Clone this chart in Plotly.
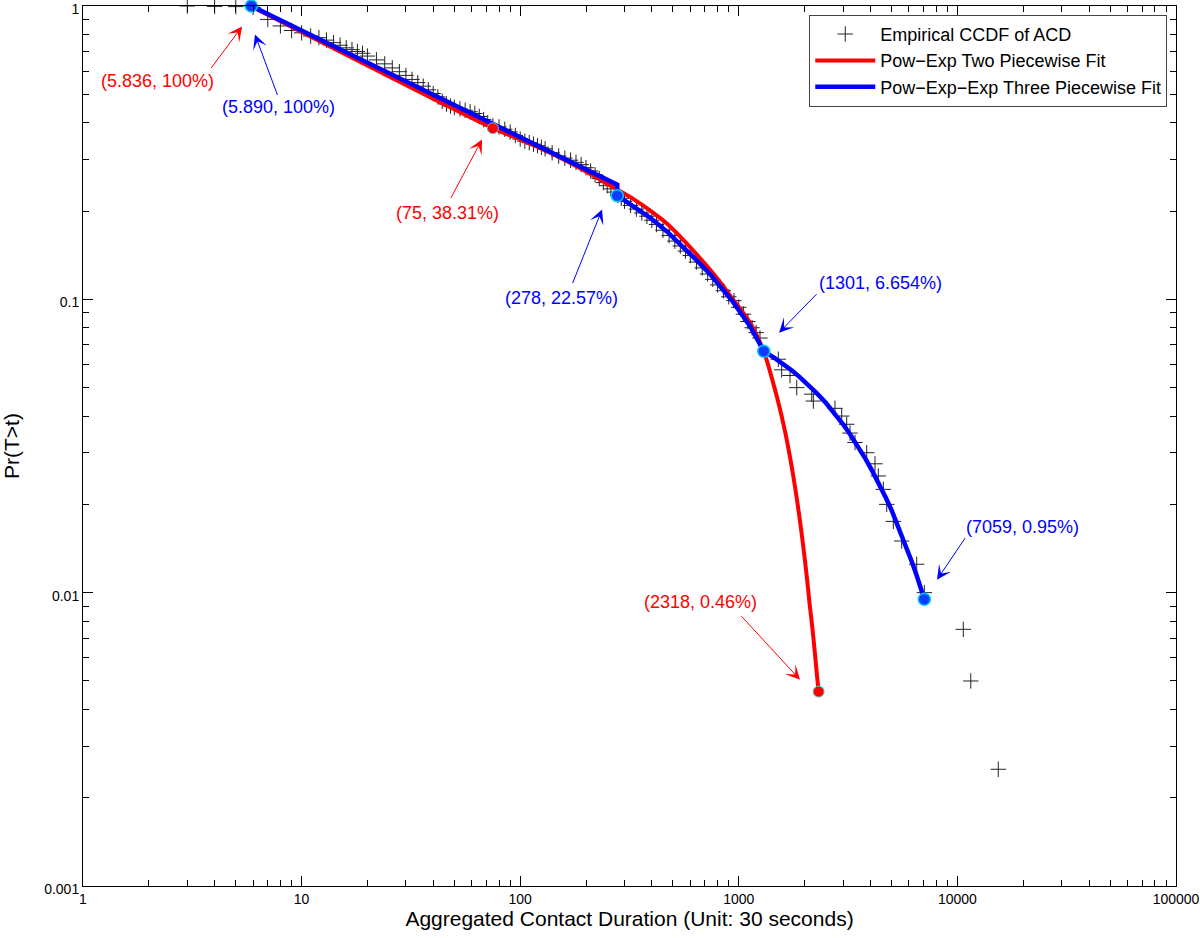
import numpy as np
import plotly.graph_objects as go

# ---------------- data ----------------
emp_x = [3, 4, 5, 6, 7, 8, 9, 10, 11, 12, 13, 14, 15, 16, 17, 18, 19, 20, 22, 24, 26, 28,
         30, 32, 34, 36, 38, 40, 42, 44, 46, 48, 50, 53, 56, 59, 62, 65, 68, 71, 75, 80,
         85, 90, 95, 100, 105, 110, 115, 120, 125, 130, 140, 150, 160, 170, 180, 190, 200,
         210, 220, 230, 240, 250, 260, 270, 280, 290, 300, 320, 340, 360, 380, 400, 420,
         450, 480, 510, 540, 570, 600, 640, 680, 720, 760, 800, 850, 900, 950, 1000, 1050,
         1100, 1150, 1200, 1250, 1516, 1571, 1715, 1841, 2156, 2193, 2754, 2956, 3116,
         3227, 3401, 3847, 4198, 4347, 4583, 4750, 5092, 5560, 6514, 7059, 10640, 11510,
         15380]
emp_y = [1.0, 0.997, 0.995, 0.99, 0.90, 0.855, 0.825, 0.81, 0.79, 0.78, 0.765, 0.75, 0.735,
         0.72, 0.71, 0.70, 0.69, 0.675, 0.655, 0.635, 0.615, 0.597, 0.58, 0.562, 0.548,
         0.533, 0.518, 0.503, 0.49, 0.473, 0.463, 0.456, 0.451, 0.446, 0.441, 0.436, 0.43,
         0.42, 0.41, 0.40, 0.39, 0.387, 0.38, 0.372, 0.362, 0.352, 0.346, 0.342, 0.338,
         0.334, 0.33, 0.326, 0.316, 0.308, 0.303, 0.298, 0.293, 0.288, 0.281, 0.274, 0.266,
         0.258, 0.25, 0.244, 0.238, 0.232, 0.226, 0.221, 0.216, 0.209, 0.203, 0.197, 0.192,
         0.186, 0.18, 0.172, 0.165, 0.158, 0.152, 0.146, 0.141, 0.134, 0.128, 0.122, 0.117,
         0.112, 0.107, 0.102, 0.099, 0.094, 0.089, 0.084, 0.08, 0.077, 0.0738, 0.0625,
         0.0575, 0.055, 0.05, 0.0475, 0.045, 0.0425, 0.04, 0.0375, 0.035, 0.0325, 0.03,
         0.0275, 0.025, 0.0225, 0.02, 0.0175, 0.015, 0.0125, 0.01, 0.0075, 0.005, 0.0025]

red_x = [5.836, 75, 100, 137, 200, 265, 330, 392, 470, 556, 640, 738, 840, 941, 1030, 1125,
         1210, 1291, 1360, 1430, 1500, 1570, 1640, 1710, 1780, 1850, 1920, 1990, 2050, 2110,
         2170, 2230, 2280, 2318]
red_y = [1.0, 0.3831, 0.351, 0.316, 0.273, 0.2415, 0.2195, 0.201, 0.181, 0.1598, 0.1425,
         0.1263, 0.112, 0.0998, 0.0915, 0.0833, 0.0752, 0.0674, 0.060, 0.0525, 0.046, 0.040,
         0.0345, 0.0293, 0.0247, 0.0205, 0.0168, 0.0136, 0.0112, 0.0091, 0.0076, 0.0062,
         0.0052, 0.0046]

blue_x = [5.89, 75, 150, 278, 278, 330, 392, 470, 556, 640, 738, 840, 941, 1030, 1125, 1210,
          1301, 1450, 1598, 1750, 1900, 2100, 2272, 2500, 2750, 3000, 3250, 3500, 3800, 4100,
          4400, 4700, 5000, 5300, 5600, 5900, 6200, 6500, 6800, 7059]
blue_y = [1.0, 0.396, 0.308, 0.246, 0.2257, 0.208, 0.19, 0.17, 0.151, 0.136, 0.122, 0.109,
          0.098, 0.089, 0.081, 0.0735, 0.06654, 0.0633, 0.0602, 0.0572, 0.0543, 0.0508,
          0.0479, 0.0444, 0.0408, 0.0375, 0.0344, 0.0316, 0.0286, 0.0258, 0.02335, 0.0211,
          0.0191, 0.0172, 0.01556, 0.01406, 0.0127, 0.01148, 0.01037, 0.0095]

red_pts_x = [5.836, 75, 2318]
red_pts_y = [1.0, 0.3831, 0.0046]
blue_pts_x = [5.89, 278, 1301, 7059]
blue_pts_y = [1.0, 0.2257, 0.06654, 0.0095]

x_tick_vals = [1, 10, 100, 1000, 10000, 100000]
x_tick_text = ["1", "10", "100", "1000", "10000", "100000"]
y_tick_vals = [0.001, 0.01, 0.1, 1]
y_tick_text = ["0.001", "0.01", "0.1", "1"]

# annotations: label, colour, text centre (x, y), arrow tip (x, y), tail offset px (dx, dy)
ann_labels = ["(5.836, 100%)", "(5.890, 100%)", "(75, 38.31%)", "(278, 22.57%)",
              "(1301, 6.654%)", "(7059, 0.95%)", "(2318, 0.46%)"]
ann_colors = ["red", "blue", "red", "blue", "blue", "blue", "red"]
ann_text_x = [2.20, 7.80, 46.3, 153.7, 4426, 19750, 664.5]
ann_text_y = [0.553, 0.451, 0.1975, 0.1013, 0.114, 0.0168, 0.0093]
ann_tip_x = [5.34, 6.12, 66.9, 236.8, 1528, 8069, 1905]
ann_tip_y = [0.851, 0.80, 0.3505, 0.2023, 0.077, 0.01107, 0.00505]
ann_dx = [-32, 23, -32, -30, 39, 29, -60]
ann_dy = [43, 62, 60, 75, -40, -43, -65]

FONT = "Liberation Sans, Arial, Helvetica, sans-serif"
RED = "#ff0000"
BLUE = "#0000ff"

fig = go.Figure()
fig.add_trace(go.Scatter(x=emp_x, y=emp_y, mode="markers", name="Empirical CCDF of ACD",
                         cliponaxis=False,
                         marker=dict(symbol="cross-thin", size=11,
                                     line=dict(color="#222222", width=1))))
fig.add_trace(go.Scatter(x=red_x, y=red_y, mode="lines", name="Pow\u2212Exp Two Piecewise Fit",
                         line=dict(color=RED, width=4, shape="spline", smoothing=0.7)))
fig.add_trace(go.Scatter(x=blue_x, y=blue_y, mode="lines",
                         name="Pow\u2212Exp\u2212Exp Three Piecewise Fit",
                         line=dict(color=BLUE, width=4.5)))
fig.add_trace(go.Scatter(x=red_pts_x, y=red_pts_y, mode="markers", showlegend=False,
                         cliponaxis=False,
                         marker=dict(size=11, color=RED, line=dict(color="#55c8e0", width=1))))
fig.add_trace(go.Scatter(x=blue_pts_x, y=blue_pts_y, mode="markers", showlegend=False,
                         cliponaxis=False,
                         marker=dict(size=12, color="#0a3cff", line=dict(color="#00c8ff", width=1.5))))

for lab, col, tx, ty, px, py, dx, dy in zip(ann_labels, ann_colors, ann_text_x, ann_text_y,
                                             ann_tip_x, ann_tip_y, ann_dx, ann_dy):
    fig.add_annotation(x=np.log10(px), y=np.log10(py), ax=dx, ay=dy, text="",
                       showarrow=True, arrowhead=3, arrowsize=2.4, arrowwidth=1,
                       arrowcolor=col)
    fig.add_annotation(x=np.log10(tx), y=np.log10(ty), text=lab, showarrow=False,
                       font=dict(family=FONT, size=18, color=col),
                       xanchor="center", yanchor="middle")


def minor_vals(lo, hi):
    return [m * 10.0 ** e for e in range(lo, hi) for m in range(2, 10)]


axis_common = dict(type="log", showgrid=False, zeroline=False, showline=True,
                   linecolor="black", linewidth=1, mirror="allticks", ticks="inside",
                   ticklen=10, tickcolor="black", tickwidth=1, tickmode="array",
                   ticklabeloverflow="allow", automargin=False,
                   tickfont=dict(family=FONT, size=14, color="black"))

fig.update_layout(
    width=1200, height=938,
    margin=dict(l=83, r=24, t=6, b=52, autoexpand=False),
    paper_bgcolor="white", plot_bgcolor="white",
    font=dict(family=FONT, color="black"),
    xaxis=dict(axis_common, range=[0, 5], tickvals=x_tick_vals, ticktext=x_tick_text,
               minor=dict(ticks="inside", ticklen=6, tickcolor="black", tickwidth=1,
                          tickmode="array", tickvals=minor_vals(0, 5), showgrid=False),
               title=dict(text="Aggregated Contact Duration (Unit: 30 seconds)",
                          font=dict(family=FONT, size=21), standoff=2)),
    yaxis=dict(axis_common, range=[-3, 0], tickvals=y_tick_vals, ticktext=y_tick_text,
               ticklabelshift=3,
               minor=dict(ticks="inside", ticklen=6, tickcolor="black", tickwidth=1,
                          tickmode="array", tickvals=minor_vals(-3, 0), showgrid=False),
               title=dict(text="Pr(T>t)", font=dict(family=FONT, size=21), standoff=19)),
    legend=dict(x=0.992, y=0.99, xanchor="right", yanchor="top", bgcolor="white",
                bordercolor="#444444", borderwidth=1, font=dict(family=FONT, size=18),
                itemwidth=60, tracegroupgap=0),
    showlegend=True,
)

fig.write_html("out.html", config={"displayModeBar": False},
               post_script="document.body.style.margin='0';")
